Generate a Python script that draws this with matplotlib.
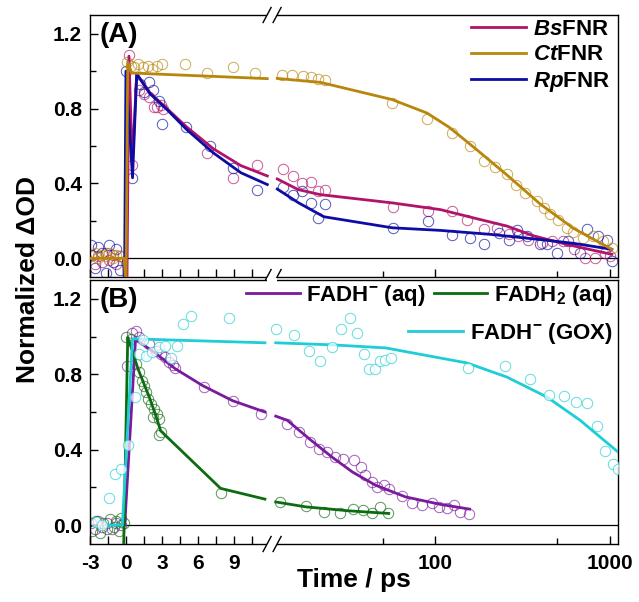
import numpy as np
import matplotlib
matplotlib.use('Agg')
import matplotlib.pyplot as plt
from matplotlib.lines import Line2D
from matplotlib.patches import Rectangle

plt.rcParams['font.family'] = ['Liberation Sans', 'DejaVu Sans']
plt.rcParams['font.weight'] = 'bold'
plt.rcParams['mathtext.fontset'] = 'custom'
plt.rcParams['mathtext.rm'] = 'Liberation Sans:bold'
plt.rcParams['mathtext.bf'] = 'Liberation Sans:bold'
plt.rcParams['mathtext.it'] = 'Liberation Sans:bold:italic'
plt.rcParams['mathtext.default'] = 'rm'

# ---------------- data: panel A ----------------
bs_x = [-2.9, -2.6, -2.3, -2.0, -1.7, -1.4, -1.1, -0.8, -0.5,
        0.25, 0.53, 1.08, 1.5, 1.9, 2.33, 2.6, 2.9, 3.1, 6.8, 8.9, 10.9,
        13.4, 15.4, 17.3, 19.4, 21.3, 23.5, 57, 90.8, 124.5, 151.8, 189, 225, 263, 299,
        341, 407, 464, 541, 618, 718, 821, 936, 1000]
bs_y = [0.02, -0.03, 0.01, -0.02, 0.03, -0.01, 0.02, -0.03, 0.01,
        1.085, 0.50, 0.90, 0.88, 0.86, 0.81, 0.81, 0.82, 0.80, 0.56, 0.43, 0.50,
        0.477, 0.438, 0.40, 0.406, 0.358, 0.363, 0.273, 0.252, 0.252, 0.207, 0.158, 0.163, 0.128, 0.119,
        0.10, 0.083, 0.092, 0.092, 0.048, 0.004, 0.004, 0.03, 0.012]
bs_fit_x = [0.08, 0.25, 0.53, 0.9, 2.0, 3.5, 5.1, 7.3, 9.6, 11.8,
            12.45, 16.4, 22, 56.6, 107, 165, 257, 365, 566, 1023]
bs_fit_y = [-0.15, 1.08, 0.50, 0.985, 0.885, 0.795, 0.70, 0.585, 0.495, 0.44,
            0.424, 0.367, 0.34, 0.296, 0.26, 0.216, 0.172, 0.12, 0.074, 0.021]

ct_x = [-2.9, -2.6, -2.3, -2.0, -1.7, -1.4, -1.1, -0.8, -0.5,
        0.1, 0.4, 0.7, 1.0, 1.4, 1.8, 2.2, 2.6, 3.0, 4.9, 6.8, 8.9, 10.8,
        13.2, 15.2, 17.4, 19.5, 21.4, 23.2, 56.6, 90, 124.5, 157, 191, 220, 257, 290,
        327, 381, 416, 454, 505, 566, 617, 702, 800, 915, 1023]
ct_y = [0.01, 0.03, 0.0, 0.02, 0.01, 0.03, 0.0, 0.02, 0.01,
        1.05, 1.03, 1.02, 1.04, 1.02, 1.03, 1.01, 1.03, 1.04, 1.04, 0.99, 1.02, 0.99,
        0.98, 0.98, 0.975, 0.97, 0.96, 0.955, 0.83, 0.743, 0.67, 0.60, 0.52, 0.49, 0.45, 0.39,
        0.35, 0.305, 0.27, 0.234, 0.207, 0.163, 0.138, 0.11, 0.12, 0.092, 0.057]
ct_fit_x = [-3, -0.15, 0.0, 0.15, 0.45, 11.8,
            12.45, 22, 56.6, 89.6, 120, 165, 257, 398, 617, 1023]
ct_fit_y = [0.0, 0.0, -0.15, 1.05, 0.99, 0.96,
            0.961, 0.94, 0.848, 0.776, 0.70, 0.595, 0.445, 0.29, 0.16, 0.048]

rp_x = [-2.9, -2.6, -2.3, -2.0, -1.7, -1.4, -1.1, -0.8, -0.5,
        -0.03, 0.53, 1.2, 1.5, 1.9, 2.3, 2.75, 3.0, 5.0, 7.0, 8.9, 10.9,
        13.4, 15.4, 17.3, 19.4, 21.3, 23.5, 57, 90.8, 124.5, 157, 189, 230, 263, 293,
        334, 398, 433, 495, 578, 674, 734, 857, 954, 1023]
rp_y = [0.07, -0.05, 0.06, 0.03, -0.08, 0.07, -0.02, 0.05, -0.06,
        1.0, 0.43, 0.93, 0.89, 0.94, 0.90, 0.84, 0.72, 0.70, 0.60, 0.48, 0.367,
        0.381, 0.34, 0.358, 0.296, 0.216, 0.29, 0.163, 0.198, 0.122, 0.106, 0.078, 0.137, 0.10, 0.15,
        0.12, 0.074, 0.074, 0.03, 0.092, 0.03, 0.154, 0.12, 0.10, -0.015]
rp_fit_x = [-0.2, -0.12, 0.0, 0.55, 0.9, 2.0, 3.5, 5.1, 7.3, 9.6, 11.8,
            12.45, 16.5, 23, 56.6, 107, 206, 398, 618, 1023]
rp_fit_y = [0.0, -0.15, 1.0, 0.43, 0.985, 0.88, 0.79, 0.686, 0.563, 0.457, 0.394,
            0.37, 0.296, 0.222, 0.163, 0.149, 0.128, 0.10, 0.08, 0.048]

# ---------------- data: panel B ----------------
aq_x = [-2.9, -2.6, -2.3, -2.0, -1.6, -1.2, -0.8, -0.4,
        0.1, 0.53, 0.8, 1.08, 1.9, 2.5, 2.9, 3.3, 3.6, 3.9, 4.1, 6.5, 8.9, 11.3,
        14.1, 16.5, 19.1, 21.5, 24, 26.8, 29.6, 34, 37.3, 39.8, 43.1, 46.4, 50.6, 54.6,
        64.5, 73.6, 84, 95.8, 104.5, 116.6, 127, 139, 155]
aq_y = [0.01, -0.02, 0.02, -0.01, 0.01, -0.02, 0.01, 0.0,
        0.843, 1.02, 1.03, 0.996, 0.96, 0.926, 0.908, 0.89, 0.864, 0.847, 0.832, 0.732, 0.656, 0.59,
        0.538, 0.494, 0.441, 0.406, 0.388, 0.361, 0.353, 0.344, 0.309, 0.265, 0.229, 0.203, 0.212, 0.19,
        0.155, 0.115, 0.109, 0.12, 0.097, 0.092, 0.106, 0.07, 0.057]
aq_fit_x = [-0.1, 0.8, 2.5, 4.1, 6.4, 8.9, 11.6,
            12.2, 14.2, 18.9, 25.6, 33.5, 45.4, 67.4, 107, 157]
aq_fit_y = [0.0, 0.985, 0.91, 0.83, 0.74, 0.66, 0.60,
            0.578, 0.556, 0.459, 0.361, 0.282, 0.212, 0.15, 0.11, 0.085]

h2_x = [-2.8, -2.5, -2.2, -1.9, -1.6, -1.3, -1.0, -0.8, -0.6, -0.4, -0.2,
        0.0, 0.4, 0.8, 1.08, 1.3, 1.5, 1.7, 1.86, 2.06, 2.33, 2.3, 2.6, 2.75, 2.9, 2.75, 7.9,
        12.9, 18.1, 23, 28.4, 33.7, 38.4, 43.5, 48.5, 53.6]
h2_y = [-0.03, 0.02, -0.04, 0.01, -0.02, 0.03, -0.01, 0.02, -0.03, 0.04, 0.01,
        0.996, 0.988, 0.855, 0.81, 0.767, 0.74, 0.705, 0.67, 0.644, 0.617, 0.573, 0.59, 0.565, 0.494, 0.476, 0.168,
        0.123, 0.102, 0.07, 0.062, 0.088, 0.079, 0.065, 0.097, 0.065]
h2_fit_x = [-0.2, 0.15, 0.5, 1.0, 1.5, 2.0, 2.5, 2.9, 7.9, 11.6,
            12.2, 18.1, 31.9, 54.1]
h2_fit_y = [-0.15, 0.995, 0.93, 0.83, 0.75, 0.67, 0.58, 0.50, 0.195, 0.138,
            0.123, 0.097, 0.076, 0.062]

gox_x = [-2.5, -2.0, -1.4, -0.9, -0.4, 0.17, 0.72, 1.08, 1.4, 1.7, 2.2, 2.75, 3.3, 3.8, 4.3, 4.8, 5.4, 8.6,
         12.3, 15.5, 18.9, 22, 25.6, 29, 32.3, 35.7, 38.9, 41.6, 45.4, 48.5, 51.8, 56,
         153, 251, 348, 450, 546, 641, 736, 838, 936, 1033, 1110]
gox_y = [0.017, 0.0, 0.144, 0.27, 0.296, 0.423, 0.68, 0.91, 0.98, 0.896, 0.917, 0.943, 0.949, 0.885, 0.949, 1.067, 1.107, 1.097,
         1.04, 1.01, 0.926, 0.873, 0.943, 1.04, 1.10, 1.02, 0.905, 0.83, 0.83, 0.873, 0.878, 0.885,
         0.834, 0.843, 0.776, 0.688, 0.683, 0.652, 0.647, 0.524, 0.393, 0.326, 0.30]
gox_fit_x = [-1.6, -0.3, 0.55, 11.6,
             12.2, 25.7, 51.8, 152, 257, 434, 674, 1110]
gox_fit_y = [0.0, 0.0, 0.988, 0.967,
             0.967, 0.956, 0.94, 0.86, 0.785, 0.68, 0.556, 0.388]

x_major = [-3, -1.5, 0, 1.5, 3, 4.5, 6, 7.5, 9, 10.5, 100, 1000]
x_major_labels = ['-3', '', '0', '', '3', '', '6', '', '9', '', '100', '1000']
x_minor = [50, 500]
y_major = [0.0, 0.4, 0.8, 1.2]
y_minor = [0.2, 0.6, 1.0]

C_BS = '#B0136A'
C_CT = '#B8860B'
C_RP = '#0D0DA5'
C_AQ = '#7A1A9C'
C_H2 = '#0E6B12'
C_GOX = '#1ECDD5'

# ---------------- broken axis scale ----------------
XB = 12.0
GAP = 0.4
DEC = 175.0 / 12.0
XMIN, XMAX = -3.0, 1110.0


def fwd(x):
    x = np.asarray(x, dtype=float)
    xl = np.log10(np.maximum(x, XB))
    return np.where(x <= XB, x, XB + GAP + (xl - np.log10(XB)) * DEC)


def inv(u):
    u = np.asarray(u, dtype=float)
    return np.where(u <= XB, u, XB * 10 ** ((np.maximum(u, XB + GAP) - XB - GAP) / DEC))


fig = plt.figure(figsize=(6.39, 6.02), dpi=100)
W, H = 639.0, 602.0
axA = fig.add_axes([90 / W, 1 - 277 / H, 528 / W, 262 / H])
axB = fig.add_axes([90 / W, 1 - 544 / H, 528 / W, 264 / H])


def plot_series(ax, x, y, fx, fy, color, label, z, mfc='none', mz=2):
    x = np.asarray(x); y = np.asarray(y)
    fx = np.asarray(fx); fy = np.asarray(fy)
    ax.plot(x, y, 'o', mfc=mfc, mec=color, ms=7.5, mew=0.7, alpha=0.7, zorder=mz)
    m1 = fx <= XB
    h, = ax.plot(fx[m1], fy[m1], '-', color=color, lw=2.0, zorder=z, label=label)
    ax.plot(fx[~m1], fy[~m1], '-', color=color, lw=2.0, zorder=z)
    return h


for ax in (axA, axB):
    ax.set_xscale('function', functions=(fwd, inv))
    ax.set_xlim(XMIN, XMAX)
    ax.set_ylim(-0.1, 1.3)
    ax.hlines(0, 0, XMAX, color='black', lw=0.9, zorder=1)
    ax.set_xticks(x_major)
    ax.set_xticks(x_minor, minor=True)
    ax.set_yticks(y_major)
    ax.set_yticks(y_minor, minor=True)
    ax.set_yticklabels(['%.1f' % v for v in y_major])
    ax.tick_params(axis='both', which='both', direction='in', top=False, right=False,
                   labelsize=15, width=1.0)
    ax.tick_params(axis='both', which='major', length=6, pad=6)
    ax.tick_params(axis='both', which='minor', length=4)
    for s in ax.spines.values():
        s.set_linewidth(1.0)

axA.set_xticklabels([''] * len(x_major))
axB.set_xticklabels(x_major_labels)
axB.tick_params(axis='x', which='major', pad=7)

hBs = plot_series(axA, bs_x, bs_y, bs_fit_x, bs_fit_y, C_BS, r'$\mathit{Bs}$FNR', 3.0)
hRp = plot_series(axA, rp_x, rp_y, rp_fit_x, rp_fit_y, C_RP, r'$\mathit{Rp}$FNR', 3.1)
hCt = plot_series(axA, ct_x, ct_y, ct_fit_x, ct_fit_y, C_CT, r'$\mathit{Ct}$FNR', 3.2)

hAq = plot_series(axB, aq_x, aq_y, aq_fit_x, aq_fit_y, C_AQ, r'FADH$^{-}$ (aq)', 3.0)
hH2 = plot_series(axB, h2_x, h2_y, h2_fit_x, h2_fit_y, C_H2, r'FADH$_{2}$ (aq)', 3.1)
hGx = plot_series(axB, gox_x, gox_y, gox_fit_x, gox_fit_y, C_GOX, r'FADH$^{-}$ (GOX)', 3.2,
                  mfc='white', mz=3.5)

legA = axA.legend(handles=[hBs, hCt, hRp], loc='upper right', bbox_to_anchor=(0.985, 0.985),
                  frameon=False, fontsize=16, handlelength=2.5, handletextpad=0.3,
                  labelspacing=0.2, borderpad=0, borderaxespad=0)

legB1 = axB.legend(handles=[hAq, hH2], loc='upper right', bbox_to_anchor=(0.99, 0.99), ncol=2,
                   frameon=False, fontsize=16, handlelength=2.4, handletextpad=0.3,
                   columnspacing=0.35, borderpad=0, borderaxespad=0)
axB.add_artist(legB1)
legB2 = axB.legend(handles=[hGx], loc='upper right', bbox_to_anchor=(0.99, 0.845),
                   frameon=False, fontsize=16, handlelength=2.5, handletextpad=0.3,
                   borderpad=0, borderaxespad=0)

axA.text(0.018, 0.975, '(A)', transform=axA.transAxes, ha='left', va='top', fontsize=20)
axB.text(0.018, 0.975, '(B)', transform=axB.transAxes, ha='left', va='top', fontsize=20)

fig.text(28 / W, 1 - 280 / H, 'Normalized \u0394OD', rotation=90, ha='center', va='center', fontsize=19)
fig.text(354 / W, 1 - 580 / H, 'Time / ps', ha='center', va='center', fontsize=19)

# ---------------- break marks ----------------
u0, u1 = float(fwd(XMIN)), float(fwd(XMAX))
fb = (XB + GAP / 2 - u0) / (u1 - u0)


def break_mark(ax, yfrac, heightpx):
    wpx = 528.0
    dx = 4.0 / wpx
    dy = 7.5 / heightpx
    sep = 5.0 / wpx
    ax.add_patch(Rectangle((fb - sep, yfrac - 2.0 / heightpx), 2 * sep, 4.0 / heightpx,
                           transform=ax.transAxes, facecolor='white', edgecolor='none',
                           clip_on=False, zorder=10))
    for c in (fb - sep, fb + sep):
        ax.add_line(Line2D([c - dx, c + dx], [yfrac - dy, yfrac + dy], transform=ax.transAxes,
                           color='black', lw=1.0, clip_on=False, zorder=11))


break_mark(axA, 1.0, 262.0)
break_mark(axA, 0.0, 262.0)
axB.add_patch(Rectangle((fb - 5.0 / 528, 1.0 - 2.0 / 264), 10.0 / 528, 4.0 / 264,
                        transform=axB.transAxes, facecolor='white', edgecolor='none',
                        clip_on=False, zorder=10))
break_mark(axB, 0.0, 264.0)

fig.savefig('out.png', dpi=100)
